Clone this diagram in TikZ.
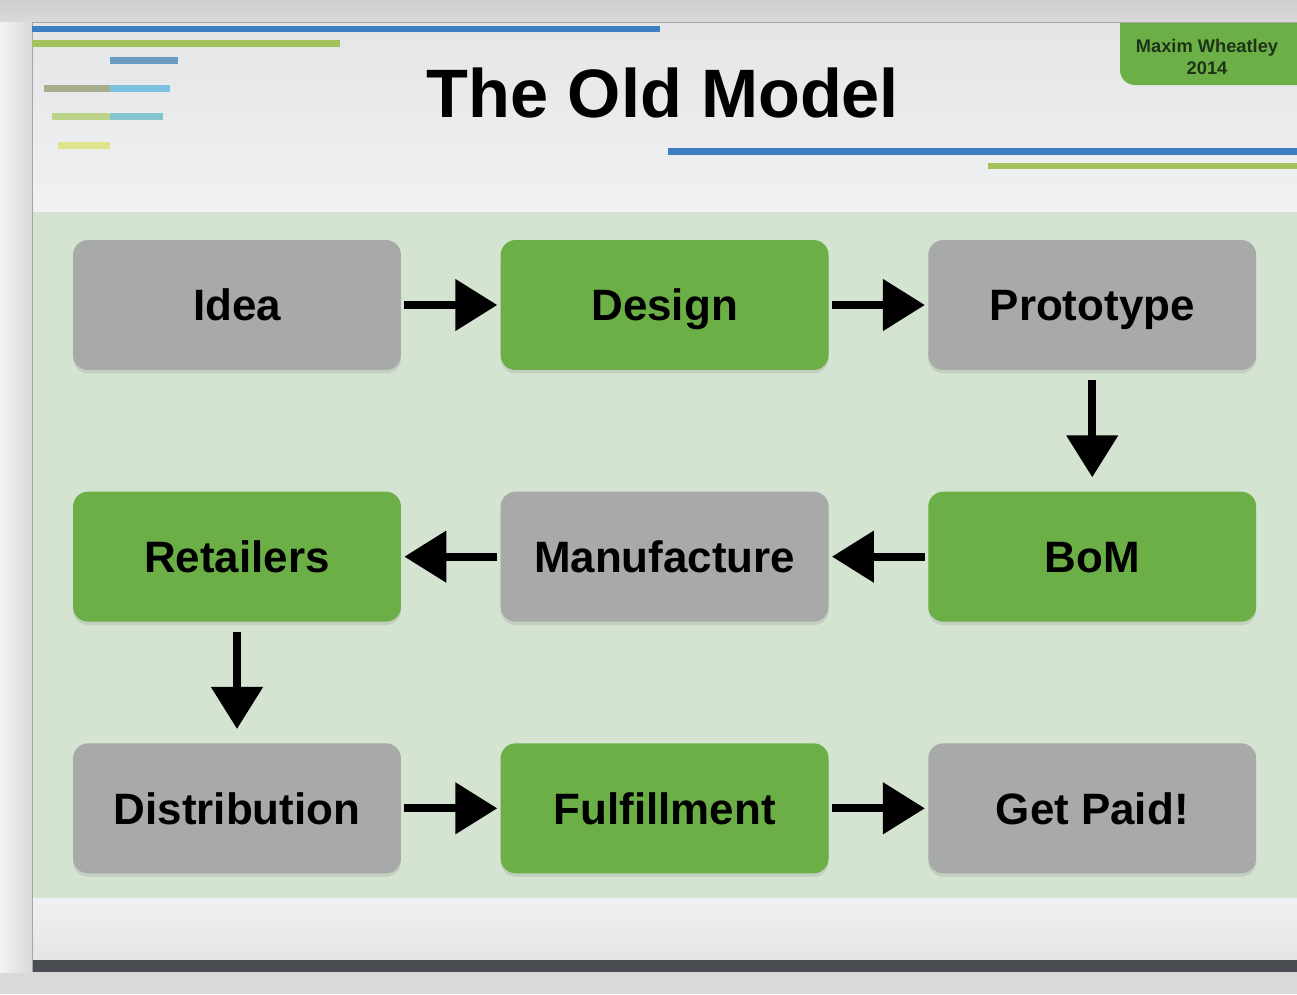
\documentclass[tikz,border=0pt]{standalone}
\usepackage{fontspec}
\setmainfont{Liberation Sans}
\usetikzlibrary{positioning,arrows.meta,shadows}
\definecolor{boxgray}{HTML}{A8AAA9}
\definecolor{boxgreen}{HTML}{6BAF46}
\definecolor{panelgreen}{HTML}{D4E4D1}
\definecolor{slidetop}{HTML}{E4E5E7}
\definecolor{slidebot}{HTML}{F0F1F3}
\definecolor{framegray}{HTML}{D9D9D9}
\definecolor{lineblue}{HTML}{3D7DC1}
\definecolor{linegreen}{HTML}{A4C25C}
\definecolor{barblue}{HTML}{6B9BBE}
\definecolor{barsky}{HTML}{7CC3E0}
\definecolor{barteal}{HTML}{86C4D0}
\definecolor{barolive}{HTML}{A8AD8E}
\definecolor{barlime}{HTML}{BCD38A}
\definecolor{baryellow}{HTML}{DDE48C}
\definecolor{darkbar}{HTML}{4A4D52}
\definecolor{badgetext}{HTML}{1E3318}
\tikzset {
stepgray/.style={shape=rectangle,rounded corners=0.3cm,fill=boxgray,minimum width=6.56cm,minimum height=2.6cm,
  text height=18pt,text depth=0pt,
  font=\fontsize{25}{30}\selectfont\bfseries,drop shadow={shadow xshift=0pt,shadow yshift=-0.07cm,opacity=0.2}},
stepgreen/.style={stepgray,fill=boxgreen},
flow/.style={line width=0.16cm,-{Triangle[length=0.84cm,width=1cm]},shorten <=0.06cm,shorten >=0.06cm},
flowdown/.style={flow,shorten <=0.2cm,shorten >=0.28cm}
}

\begin{document}
\begin{tikzpicture}
[x=0.02cm,y=-0.02cm,node distance=2.42cm and 1.98cm]
\useasboundingbox (0,0) rectangle (1297,994);
% frame and slide
\fill[framegray] (0,0) rectangle (1297,994);
\shade[top color=framegray!80!black!60,bottom color=framegray] (0,0) rectangle (1297,22);
\shade[left color=white!95!black,right color=framegray] (0,22) rectangle (32,972);
\shade[top color=slidetop,bottom color=slidebot] (32,22) rectangle (1297,212);
\fill[panelgreen] (32,212) rectangle (1297,898);
\shade[top color=slidebot,bottom color=slidetop] (32,898) rectangle (1297,960);
\fill[darkbar] (32,960) rectangle (1297,972);
\draw[gray!70,line width=0.4pt] (32,972) -- (32,22) -- (1297,22);
% header lines
\fill[lineblue] (32,26) rectangle (660,32);
\fill[linegreen] (32,40) rectangle (340,47);
\fill[barblue] (110,57) rectangle (178,64);
\fill[barolive] (44,85) rectangle (110,92);
\fill[barsky] (110,85) rectangle (170,92);
\fill[barlime] (52,113) rectangle (110,120);
\fill[barteal] (110,113) rectangle (163,120);
\fill[baryellow] (58,142) rectangle (110,149);
\fill[lineblue] (668,148) rectangle (1297,155);
\fill[linegreen] (988,163) rectangle (1297,169);
% badge
\fill[boxgreen] (1120,23) -- (1297,23) -- (1297,85) -- (1135,85)
  arc[start angle=270,end angle=180,radius=0.3cm] -- cycle;
\node[text=badgetext,font=\fontsize{10.4}{12.5}\selectfont\bfseries,align=center] (author) at (1207,57) {Maxim Wheatley\\2014};
\node[font=\fontsize{39}{44}\selectfont\bfseries] (title) at (663,93) {The Old Model};
% process boxes
\node[stepgray] (idea) at (237,305) {Idea};
\node[stepgreen] (design) [right=of idea] {Design};
\node[stepgray] (proto) [right=of design] {Prototype};
\node[stepgreen] (bom) [below=of proto] {BoM};
\node[stepgray] (manu) [left=of bom] {Manufacture};
\node[stepgreen] (retail) [left=of manu] {Retailers};
\node[stepgray] (distrib) [below=of retail] {Distribution};
\node[stepgreen] (fulfil) [right=of distrib] {Fulfillment};
\node[stepgray] (paid) [right=of fulfil] {Get Paid!};
\draw[flow] (idea) -- (design);
\draw[flow] (design) -- (proto);
\draw[flowdown] (proto) -- (bom);
\draw[flow] (bom) -- (manu);
\draw[flow] (manu) -- (retail);
\draw[flowdown] (retail) -- (distrib);
\draw[flow] (distrib) -- (fulfil);
\draw[flow] (fulfil) -- (paid);
\end{tikzpicture}
\end{document}
